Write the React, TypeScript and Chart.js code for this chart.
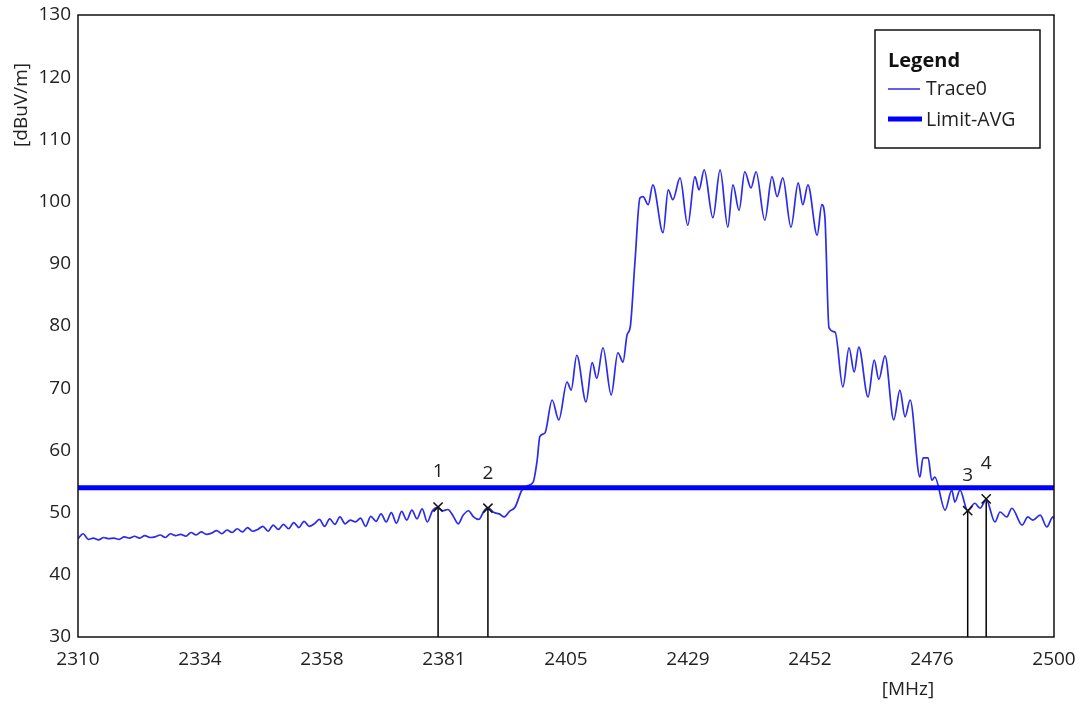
import React, { useEffect, useRef } from "react";
import { Chart, registerables } from "chart.js";

Chart.register(...registerables);

const FONT = "'Open Sans', 'Noto Sans', sans-serif";

const traceFreq = [
  2310, 2311, 2312, 2313, 2314, 2315, 2316, 2317, 2318, 2319,
  2320, 2321, 2322, 2323, 2324, 2325, 2326, 2327, 2328, 2329,
  2330, 2331, 2332, 2333, 2334, 2335, 2336, 2337, 2338, 2339,
  2340, 2341, 2342, 2343, 2344, 2345, 2346, 2347, 2348, 2349,
  2350, 2351, 2352, 2353, 2354, 2355, 2356, 2357, 2358, 2359,
  2360, 2361, 2362, 2363, 2364, 2365, 2366, 2367, 2368, 2369,
  2370, 2371, 2372, 2373, 2374, 2375, 2376, 2377, 2378, 2379,
  2380, 2381, 2382, 2383, 2384, 2385, 2386, 2387, 2388, 2389,
  2389.8, 2391, 2392, 2393, 2394, 2395.1, 2396.4, 2397.5, 2398.6, 2399.4,
  2399.9, 2400.9, 2402.3, 2403.6, 2405.2, 2406.0, 2407.1, 2408.9, 2410.1, 2411.0,
  2412.2, 2413.8, 2415.1, 2416.1, 2416.9, 2417.5, 2418.4, 2419.4, 2420.0, 2421.0,
  2421.9, 2423.9, 2424.9, 2425.8, 2427.2, 2428.7, 2430.1, 2430.9, 2431.9, 2433.6,
  2435.0, 2436.5, 2437.5, 2438.7, 2439.8, 2441.0, 2442.0, 2443.7, 2445.1, 2446.1,
  2447.2, 2448.8, 2450.2, 2451.1, 2452.1, 2453.9, 2454.8, 2455.4, 2456.2, 2457.4,
  2458.9, 2460.1, 2461.1, 2462.0, 2463.8, 2465.0, 2465.9, 2467.1, 2468.8, 2470.0,
  2471.0, 2472.0, 2473.9, 2474.5, 2475.5, 2476.2, 2476.8, 2478.8, 2480.1, 2480.7,
  2481.7, 2483.2, 2484.6, 2485.6, 2486.8, 2488.5, 2489.5, 2490.8, 2491.8, 2493.8,
  2494.9, 2495.9, 2497.3, 2498.6, 2499.8, 2500,
];

const traceLevel = [
  45.8, 46.6, 45.7, 45.9, 45.6, 46.0, 45.8, 45.9, 45.7, 46.1,
  45.9, 46.2, 45.9, 46.3, 46.0, 46.1, 46.4, 46.0, 46.6, 46.3,
  46.5, 46.2, 46.8, 46.4, 46.9, 46.5, 46.7, 47.1, 46.6, 47.2,
  46.8, 47.4, 46.9, 47.6, 47.0, 47.3, 47.8, 47.0, 48.0, 47.3,
  48.1, 47.4, 48.4, 47.6, 48.6, 47.8, 48.2, 48.9, 47.8, 49.0,
  48.1, 49.3, 48.2, 48.8, 48.5, 49.1, 47.8, 49.4, 48.6, 49.8,
  48.5, 50.0, 48.3, 50.2, 48.8, 50.4, 49.0, 50.6, 48.5, 50.3,
  50.8, 50.3, 50.5, 49.5, 48.2, 49.6, 50.3, 49.3, 48.9, 50.2,
  50.8, 50.0, 49.8, 49.3, 50.2, 50.9, 53.6, 54.3, 54.9, 58.5,
  62.2, 62.8, 68.1, 64.9, 71.0, 69.7, 75.3, 67.8, 74.1, 71.6,
  76.5, 68.9, 75.7, 74.2, 78.6, 79.8, 90.0, 100.6, 100.8, 99.5,
  102.7, 95.0, 101.9, 100.3, 103.8, 96.2, 104.0, 101.9, 105.1, 97.4,
  105.1, 95.9, 102.7, 98.6, 104.8, 102.2, 104.8, 97.0, 104.0, 100.8,
  103.8, 95.9, 103.0, 99.5, 102.7, 94.6, 99.5, 97.5, 79.7, 79.0,
  70.2, 76.5, 72.6, 76.6, 68.6, 74.5, 71.4, 75.2, 64.9, 69.7,
  65.4, 68.1, 55.7, 58.8, 58.8, 55.2, 55.7, 50.4, 53.6, 51.7,
  53.6, 50.3, 51.5, 50.7, 52.1, 48.5, 50.1, 49.3, 50.7, 48.0,
  49.3, 48.8, 49.6, 47.7, 49.3, 49.0,
];

const limitFreq = [2310, 2500];
const limitLevel = [54, 54];

const markerLabels = ["1", "2", "3", "4"];
const markerFreq = [2380.1, 2389.8, 2483.2, 2486.8];
const markerLevel = [50.9, 50.7, 50.3, 52.2];

const xTickValues = [2310, 2333.75, 2357.5, 2381.25, 2405, 2428.75, 2452.5, 2476.25, 2500];
const xTickLabels = ["2310", "2334", "2358", "2381", "2405", "2429", "2452", "2476", "2500"];
const yTickValues = [30, 40, 50, 60, 70, 80, 90, 100, 110, 120, 130];

const seriesNames = ["Trace0", "Limit-AVG"];
const traceColor = "#2b2bea";
const limitColor = "#0000ff";

const overlayPlugin = {
  id: "overlay",
  beforeDatasetsDraw(chart: any) {
    const { ctx, chartArea, scales } = chart;
    ctx.save();
    ctx.strokeStyle = "#000";
    ctx.lineWidth = 1.5;
    for (let i = 0; i < markerFreq.length; i++) {
      const x = scales.x.getPixelForValue(markerFreq[i]);
      const y = scales.y.getPixelForValue(markerLevel[i]);
      ctx.beginPath();
      ctx.moveTo(x, y);
      ctx.lineTo(x, chartArea.bottom);
      ctx.stroke();
    }
    ctx.restore();
  },
  afterDraw(chart: any) {
    const { ctx, chartArea, scales } = chart;
    ctx.save();
    ctx.strokeStyle = "#111";
    ctx.lineWidth = 1.5;
    ctx.strokeRect(chartArea.left, chartArea.top, chartArea.right - chartArea.left, chartArea.bottom - chartArea.top);

    ctx.fillStyle = "#222";
    ctx.font = `19px ${FONT}`;
    ctx.textAlign = "center";
    ctx.textBaseline = "middle";
    for (let i = 0; i < markerFreq.length; i++) {
      const x = scales.x.getPixelForValue(markerFreq[i]);
      const y = scales.y.getPixelForValue(markerLevel[i]);
      ctx.fillText(markerLabels[i], x, y - 35);
    }

    ctx.font = `19px ${FONT}`;
    ctx.fillStyle = "#222";
    ctx.save();
    ctx.translate(22, 105);
    ctx.rotate(-Math.PI / 2);
    ctx.fillText("[dBuV/m]", 0, 0);
    ctx.restore();
    ctx.fillText("[MHz]", 908, 690);

    const lx = 875, ly = 30, lw = 165, lh = 118;
    ctx.fillStyle = "#fff";
    ctx.fillRect(lx, ly, lw, lh);
    ctx.strokeStyle = "#111";
    ctx.lineWidth = 1.5;
    ctx.strokeRect(lx, ly, lw, lh);
    ctx.fillStyle = "#111";
    ctx.textAlign = "left";
    ctx.font = `bold 20px ${FONT}`;
    ctx.fillText("Legend", 888, 61);
    ctx.font = `19.5px ${FONT}`;
    ctx.fillStyle = "#222";
    ctx.strokeStyle = traceColor;
    ctx.lineWidth = 1.5;
    ctx.beginPath();
    ctx.moveTo(888, 89);
    ctx.lineTo(920, 89);
    ctx.stroke();
    ctx.fillText(seriesNames[0], 926, 89);
    ctx.strokeStyle = limitColor;
    ctx.lineWidth = 5;
    ctx.beginPath();
    ctx.moveTo(888, 119);
    ctx.lineTo(922, 119);
    ctx.stroke();
    ctx.fillText(seriesNames[1], 926, 120);
    ctx.restore();
  },
};

export default function App() {
  const canvasRef = useRef<HTMLCanvasElement | null>(null);

  useEffect(() => {
    const canvas = canvasRef.current;
    if (!canvas) return;
    const chart = new Chart(canvas, {
      type: "line",
      data: {
        datasets: [
          {
            label: seriesNames[0],
            data: traceFreq.map((f, i) => ({ x: f, y: traceLevel[i] })),
            borderColor: traceColor,
            borderWidth: 1.7,
            pointRadius: 0,
            cubicInterpolationMode: "monotone",
            order: 2,
          },
          {
            label: seriesNames[1],
            data: limitFreq.map((f, i) => ({ x: f, y: limitLevel[i] })),
            borderColor: limitColor,
            borderWidth: 5,
            pointRadius: 0,
            order: 1,
          },
          {
            label: "Markers",
            data: markerFreq.map((f, i) => ({ x: f, y: markerLevel[i] })),
            showLine: false,
            pointStyle: "crossRot",
            pointRadius: 6.5,
            borderColor: "#111",
            borderWidth: 1.5,
            order: 0,
          },
        ],
      },
      options: {
        animation: false,
        responsive: false,
        devicePixelRatio: 1,
        layout: { padding: { left: 0, right: 28, top: 15, bottom: 0 } },
        plugins: { legend: { display: false }, tooltip: { enabled: false } },
        scales: {
          x: {
            type: "linear",
            min: 2310,
            max: 2500,
            grid: { display: false, drawTicks: false },
            border: { display: false },
            afterBuildTicks: (s: any) => {
              s.ticks = xTickValues.map((v) => ({ value: v }));
            },
            afterFit: (s: any) => {
              s.height = 69;
              s.paddingLeft = 0;
              s.paddingRight = 0;
            },
            ticks: {
              autoSkip: false,
              maxRotation: 0,
              padding: 11,
              color: "#222",
              font: { family: FONT, size: 19 },
              callback: (_v: any, i: number) => xTickLabels[i],
            },
          },
          y: {
            type: "linear",
            min: 30,
            max: 130,
            grid: { display: false, drawTicks: false },
            border: { display: false },
            afterBuildTicks: (s: any) => {
              s.ticks = yTickValues.map((v) => ({ value: v }));
            },
            afterFit: (s: any) => {
              s.width = 78;
              s.paddingTop = 0;
              s.paddingBottom = 0;
            },
            ticks: {
              autoSkip: false,
              padding: 7,
              color: "#222",
              font: { family: FONT, size: 19 },
              callback: (v: any) => String(v),
            },
          },
        },
      },
      plugins: [overlayPlugin],
    });
    return () => chart.destroy();
  }, []);

  return (
    <div style={{ position: "fixed", left: 0, top: 0, width: 1082, height: 706, background: "#fff" }}>
      <canvas ref={canvasRef} width={1082} height={706} />
    </div>
  );
}
